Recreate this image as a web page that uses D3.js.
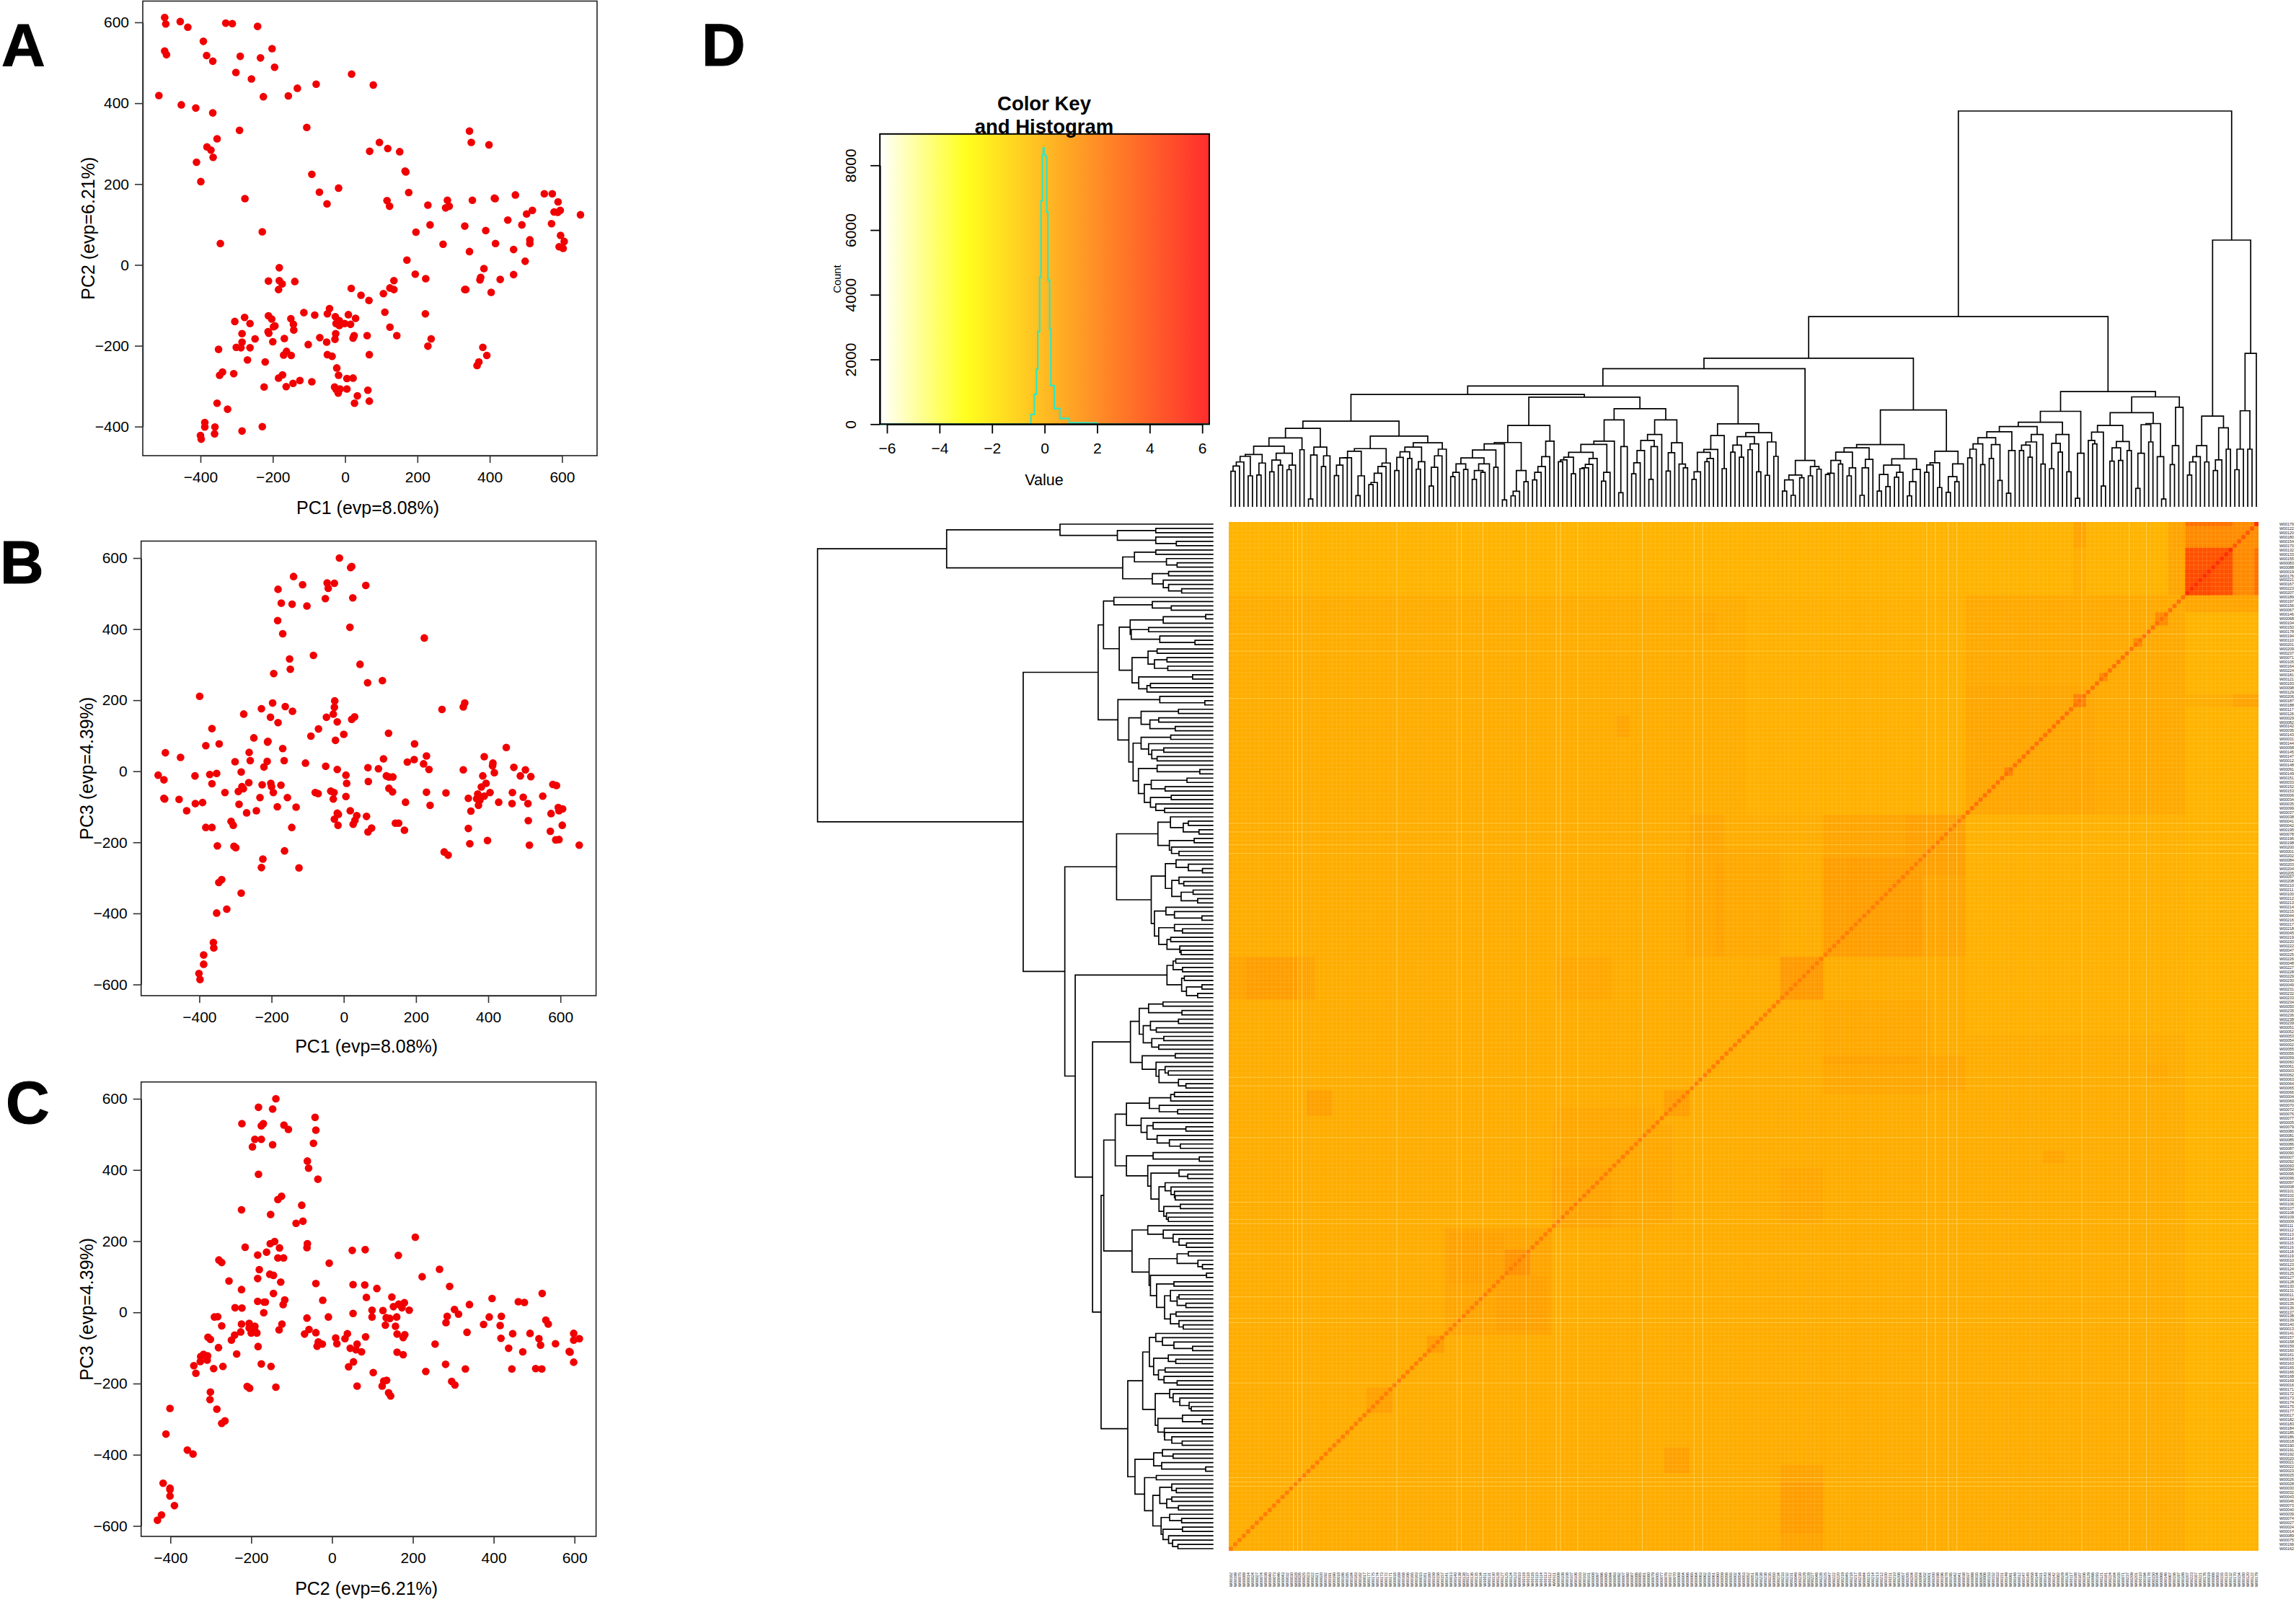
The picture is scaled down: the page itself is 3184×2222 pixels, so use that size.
<!DOCTYPE html>
<html>
<head>
<meta charset="utf-8">
<script src="https://cdn.jsdelivr.net/npm/d3@7"></script>
<style>
  html, body { margin: 0; padding: 0; background: #fff; }
  text { font-family: "Liberation Sans", Arial, sans-serif; fill: #000; }
</style>
</head>
<body>
<div class="chart"></div>
<script>
var svgWidth = 3184;
var svgHeight = 2222;

// PCA scatter values, [x, y]
var pointsA = [[-499,612],[-496,596],[-456,602],[-435,588],[-330,598],[-312,597],[-242,590],[-392,553],[-202,535],[-499,529],[-494,520],[-383,518],[-290,516],[-234,512],[-366,504],[-195,489],[-302,476],[-259,460],[18,472],[78,445],[-80,447],[-132,437],[-157,418],[-226,416],[-515,419],[-453,396],[-413,388],[-366,376],[-106,340],[-292,333],[344,331],[349,303],[398,297],[95,303],[68,281],[118,288],[151,280],[-354,312],[-382,292],[-371,284],[-365,266],[-411,254],[-399,206],[166,232],[168,230],[-92,224],[-18,190],[-71,180],[-50,151],[-277,164],[176,179],[116,159],[123,145],[229,148],[283,160],[288,145],[278,141],[352,160],[413,165],[415,164],[471,173],[551,176],[573,176],[589,156],[578,131],[588,130],[595,135],[651,124],[518,135],[502,126],[450,111],[489,99],[571,102],[235,99],[331,96],[389,85],[196,81],[-229,82],[596,73],[511,62],[511,53],[606,58],[416,53],[271,51],[-345,53],[592,45],[603,41],[466,38],[344,33],[171,12],[498,9],[-182,-7],[384,-9],[194,-23],[466,-24],[375,-31],[373,-37],[223,-34],[429,-36],[135,-39],[-212,-40],[-182,-39],[-174,-47],[-139,-41],[-184,-61],[124,-57],[135,-61],[17,-58],[331,-61],[334,-61],[404,-68],[106,-71],[44,-75],[66,-88],[-43,-108],[-49,-121],[110,-117],[222,-121],[-114,-118],[-84,-124],[9,-123],[-27,-128],[29,-132],[-212,-126],[-203,-134],[-150,-133],[-278,-130],[-305,-140],[-263,-145],[-143,-147],[-142,-161],[-16,-138],[-25,-145],[-1,-145],[15,-147],[-16,-150],[-194,-151],[-198,-153],[-213,-165],[-211,-169],[124,-154],[-285,-170],[-249,-183],[-26,-170],[-28,-184],[25,-175],[22,-181],[61,-175],[143,-175],[238,-183],[229,-201],[-168,-182],[-70,-180],[-51,-191],[-200,-190],[-102,-197],[-285,-191],[-301,-204],[-288,-205],[-263,-205],[-350,-209],[-162,-214],[-170,-223],[-149,-224],[-49,-222],[-36,-226],[67,-222],[381,-204],[392,-224],[-270,-235],[-221,-240],[370,-240],[365,-249],[-23,-255],[-18,-273],[-173,-272],[-184,-280],[-308,-269],[-339,-265],[-347,-273],[22,-280],[5,-281],[-125,-286],[-92,-289],[-144,-293],[-163,-301],[-224,-302],[-29,-302],[-25,-308],[-14,-307],[-19,-317],[5,-307],[63,-310],[34,-324],[67,-337],[26,-342],[-354,-342],[-325,-357],[-388,-390],[-388,-401],[-360,-401],[-361,-418],[-229,-400],[-285,-411],[-400,-422],[-398,-431]];

var pointsB = [[-12,600],[19,573],[22,576],[-139,548],[-114,525],[-182,512],[-46,530],[-26,529],[-43,515],[61,523],[-51,486],[25,488],[-173,473],[-143,470],[-102,465],[-183,424],[17,405],[-169,387],[223,375],[-84,326],[-150,316],[45,301],[-148,287],[-194,275],[66,249],[107,255],[-399,211],[-25,198],[-197,192],[335,192],[331,181],[272,174],[-26,180],[-162,182],[-228,176],[-142,169],[-277,161],[-29,161],[-48,152],[-203,152],[30,153],[22,146],[-182,137],[-18,139],[-365,120],[-70,119],[124,107],[0,104],[-91,99],[-249,94],[-23,87],[-211,82],[-210,84],[-345,77],[-382,72],[196,77],[450,67],[-169,64],[-494,52],[-262,53],[-452,39],[389,41],[229,43],[110,35],[195,33],[176,26],[-259,30],[-165,30],[-212,28],[-301,27],[-106,23],[221,21],[413,23],[412,15],[-50,14],[-221,12],[67,10],[471,11],[503,4],[96,7],[-18,5],[236,5],[331,4],[417,-4],[-284,-2],[-352,-6],[-371,-9],[-514,-11],[-498,-24],[-412,-13],[6,-11],[118,-13],[125,-16],[136,-16],[385,-13],[489,-13],[518,-15],[8,-34],[68,-29],[-263,-32],[-365,-35],[-226,-38],[-202,-34],[-200,-43],[-174,-39],[394,-34],[381,-44],[579,-37],[589,-40],[125,-48],[135,-58],[-282,-43],[-278,-49],[-292,-57],[-329,-60],[-195,-60],[-79,-60],[-71,-63],[-36,-56],[-27,-60],[-29,-78],[229,-59],[283,-61],[371,-64],[368,-77],[377,-81],[373,-96],[389,-70],[405,-60],[467,-60],[497,-73],[551,-70],[6,-71],[-156,-74],[-232,-74],[-498,-76],[-496,-78],[-456,-79],[345,-76],[-411,-91],[-391,-88],[-290,-93],[171,-87],[429,-87],[466,-91],[510,-91],[239,-96],[-184,-100],[-132,-101],[594,-102],[606,-106],[596,-111],[-435,-111],[-242,-111],[352,-112],[-269,-117],[18,-111],[574,-119],[-18,-118],[-15,-121],[36,-125],[63,-127],[-26,-135],[31,-138],[26,-149],[-312,-141],[-306,-152],[511,-139],[143,-146],[152,-146],[-16,-152],[605,-152],[-382,-158],[-365,-158],[-144,-158],[77,-160],[67,-171],[345,-161],[168,-166],[572,-169],[587,-193],[596,-192],[398,-195],[349,-204],[-350,-210],[-304,-211],[-299,-215],[514,-208],[652,-208],[-164,-224],[278,-227],[289,-236],[-224,-247],[-228,-271],[-124,-272],[-338,-305],[-346,-313],[-284,-343],[-324,-388],[-352,-399],[-361,-482],[-360,-497],[-388,-517],[-388,-543],[-401,-569],[-398,-586]];

var pointsC = [[-139,600],[-182,576],[-147,571],[-42,548],[-223,530],[-170,530],[-175,524],[-119,526],[-108,514],[-40,512],[-191,486],[-175,486],[-46,475],[-147,471],[-197,465],[-61,425],[-58,405],[-182,388],[-35,374],[-125,326],[-134,317],[-75,301],[-224,288],[-152,275],[-72,256],[-89,250],[206,211],[-142,199],[-153,193],[-61,193],[-62,182],[-130,181],[-215,183],[50,174],[82,176],[-162,169],[-184,161],[164,160],[-134,153],[-120,153],[-7,138],[-280,147],[-273,140],[266,121],[-180,120],[223,100],[-154,107],[-145,104],[-184,95],[-255,88],[-127,85],[-40,81],[52,78],[81,77],[291,73],[-224,64],[111,67],[-145,53],[520,53],[148,43],[85,42],[396,39],[461,30],[476,28],[-117,35],[-121,22],[-23,34],[-184,31],[-168,29],[-165,29],[179,27],[165,23],[173,13],[152,16],[340,22],[-240,13],[-223,12],[99,6],[126,5],[191,6],[303,8],[-169,-1],[52,-3],[313,-5],[-291,-13],[-283,-12],[285,-11],[-62,-16],[-9,-13],[99,-13],[134,-15],[143,-17],[160,-13],[389,-13],[419,-11],[529,-22],[535,-33],[282,-29],[-273,-38],[-224,-33],[-205,-31],[-205,-44],[-191,-39],[-192,-47],[-124,-33],[-131,-49],[132,-36],[157,-39],[375,-34],[416,-37],[-57,-48],[-226,-55],[-241,-64],[-200,-58],[-186,-58],[-68,-61],[-40,-57],[38,-60],[161,-61],[180,-63],[176,-71],[334,-56],[447,-60],[490,-59],[598,-59],[-307,-70],[-301,-76],[-249,-78],[83,-69],[9,-72],[32,-74],[418,-73],[512,-74],[612,-74],[598,-78],[12,-88],[62,-89],[-34,-83],[-37,-95],[-24,-89],[255,-89],[516,-92],[553,-88],[-281,-99],[-183,-96],[45,-101],[59,-105],[437,-101],[73,-111],[161,-112],[176,-119],[472,-111],[587,-110],[589,-112],[-236,-117],[-318,-118],[-308,-122],[-325,-124],[-326,-138],[-309,-134],[53,-139],[598,-140],[-342,-150],[-175,-145],[-151,-152],[-270,-152],[-293,-158],[41,-153],[281,-146],[330,-159],[445,-159],[504,-158],[519,-159],[232,-166],[-337,-171],[102,-169],[296,-194],[304,-204],[135,-191],[128,-193],[-210,-208],[-204,-213],[-139,-210],[62,-207],[124,-207],[-301,-224],[140,-226],[145,-235],[-302,-245],[-401,-270],[-285,-272],[-265,-305],[-273,-312],[-411,-342],[-358,-387],[-344,-398],[-418,-480],[-401,-494],[-401,-498],[-401,-516],[-390,-543],[-422,-569],[-432,-584]];

var pcaTicksX = [-400, -200, 0, 200, 400, 600];
var pcaTicksYA = [-400, -200, 0, 200, 400, 600];
var pcaTicksYBC = [-600, -400, -200, 0, 200, 400, 600];

// color key
var keyTicksX = [-6, -4, -2, 0, 2, 4, 6];
var keyTicksY = [0, 2000, 4000, 6000, 8000];
var histValue = [-6.27,-0.6,-0.52,-0.39,-0.31,-0.26,-0.19,-0.136,-0.084,-0.05,-0.02,0.03,0.084,0.126,0.19,0.24,0.37,0.58,0.94,1.57,2,6.27];
var histCount = [0,0,300,925,1700,2860,4540,6900,8330,8540,8330,8280,6560,4450,2950,1190,485,176,44,40,0,0];

// Merge height between neighbouring samples, top row to bottom row. Root is 1484.
// A dendrogram with fixed leaf order is fully described by these.
var mergeHeights = [575,216,360,216,139,1000,216,296,176,136,340,168,229,188,168,119,1484,
  373,229,158,412,29,188,312,243,308,201,69,353,211,245,174,221,171,305,78,280,236,249,432,201,32,
  358,131,271,205,238,143,317,160,271,243,186,231,211,301,211,51,281,99,233,181,259,158,236,216,183,713,
  161,94,113,54,208,72,165,157,129,363,140,94,41,180,129,111,156,76,121,59,233,178,146,43,221,146,116,205,160,174,126,121,557,
  141,151,116,174,109,119,43,101,59,518,
  189,243,118,278,131,236,214,263,186,231,205,311,143,267,215,181,169,204,131,103,453,
  146,160,240,203,134,326,271,226,103,249,211,165,124,368,226,53,326,246,129,96,234,181,159,146,143,204,124,186,176,169,411,
  246,188,151,129,101,305,94,136,58,41,241,26,236,148,213,161,129,136,103,183,140,161,129,113,421,
  216,191,148,78,240,169,141,224,181,206,185,136,265,164,151,126,91,83,218,116,42,208,184,183,156,117,321,
  191,151,224,194,29,294,214,258,156,139,201,156,175,131,227,164,119,196,116,189,168,153,133];

// sample names, same order as the rows
var sampleIds = ("179 122 120 180 154 170 132 133 155 083 088 019 176 221 167 223 207 189 197 156 067 146 068 104 150 178 194 110 201 209 237 071 105 164 224 181 121 193 098 129 206 187 188 117 126 029 082 " +
  "142 036 143 031 144 058 145 147 012 148 091 149 151 033 152 153 006 034 035 099 037 038 041 042 195 078 196 198 200 001 202 084 203 204 205 057 208 210 211 100 212 213 214 215 " +
  "044 216 217 218 045 219 220 222 047 225 226 048 227 228 229 230 049 231 232 233 234 050 235 236 238 239 051 052 053 054 002 055 056 059 060 061 003 062 063 064 065 066 004 069 070 072 076 077 005 079 080 081 " +
  "085 086 087 090 007 092 093 094 095 096 097 008 101 102 103 106 107 108 109 009 111 112 113 114 115 116 118 119 010 123 124 125 127 128 130 131 011 134 135 136 137 138 139 140 " +
  "013 141 157 158 159 160 161 015 163 165 166 168 169 016 171 172 173 174 175 177 017 182 183 184 185 186 018 190 191 192 020 021 022 023 025 026 028 030 032 043 046 " +
  "073 040 039 074 027 024 014 089 075 199 162").split(" ").map(d => "W00" + d);

// heatmap regions: [rowFrom, rowTo, colFrom, colTo, value], mirrored on draw
var heatBase = 0.5;
var heatBlocks = [
  [0,17,17,239,0.2],[17,68,17,68,0.62],[38,68,40,68,0.8],[68,119,17,68,0.34],
  [68,101,68,101,0.85],[68,78,68,82,1.05],[78,101,78,101,1.15],[101,111,101,111,1.3],
  [76,101,111,133,0.68],[101,111,151,163,0.72],[124,132,68,79,0.8],
  [124,132,79,101,0.95],[132,138,132,138,1.1],[132,138,215,221,1.0],
  [101,111,219,239,0.9],[101,111,223,235,1.15],[150,162,101,111,0.7],
  [140,163,136,164,0.72],[150,163,150,164,0.9],[164,188,164,189,0.85],[175,188,165,177,1.0],
  [169,174,170,175,1.6],[189,193,189,193,1.2],[201,207,201,207,1.0],[76,101,126,133,0.78],
  [45,50,146,149,0.85],[21,26,126,130,0.66],[0,17,17,21,0.8],[0,17,40,43,0.5],
  [17,20,0,6,0.9],[40,43,0,6,0.9],[0,6,0,6,1.9],[6,17,0,6,1.8],[0,6,6,17,2.0],
  [6,17,6,17,4.4],[11,17,11,17,4.7],[0,1,6,17,3.0],
  [21,24,21,24,1.9],[27,29,27,29,2.0],[35,37,35,37,1.9],[40,43,40,43,2.4],[57,59,57,59,2.2]
];
// diagonal value by stretch of samples: [from, to, value]
var heatDiagonal = [[0,1,5.6],[1,6,4.0],[6,17,5.8],[17,68,3.0],[68,239,2.5]];
// samples whose row and column come out as paler lines
var paleSamples = [224,223,222,186,185,170,158,143,131,129,75,72,26,30,41,70,77,162,163,180,200];

// heatmap colours
var colorScale = d3.scaleLinear()
  .domain([-6, -3, 6])
  .range(["#ffffff", "#ffff00", "#ff2a00"]);

// the key strip prints a bit paler than the cells
var keyColor = d3.scaleLinear()
  .domain([-6, -3, 6])
  .range(["#ffffff", "#ffff1e", "#ff2d2d"]);

var svg = d3.select(".chart")
  .append("svg")
  .attr("width", svgWidth)
  .attr("height", svgHeight)
  .style("display", "block");

svg.append("rect").attr("width", svgWidth).attr("height", svgHeight).attr("fill", "#fff");

// Scatter panels
function drawPca(opt) {
  var g = svg.append("g");
  var x = d3.scaleLinear().domain(opt.xDomain).range(opt.xRange);
  var y = d3.scaleLinear().domain(opt.yDomain).range(opt.yRange);

  g.append("rect")
    .attr("x", opt.frame[0]).attr("y", opt.frame[1])
    .attr("width", opt.frame[2] - opt.frame[0]).attr("height", opt.frame[3] - opt.frame[1])
    .attr("fill", "none").attr("stroke", "#222").attr("stroke-width", 1.6);

  var bottomAxis = d3.axisBottom(x).tickValues(opt.xTicks).tickSize(10).tickPadding(12).tickSizeOuter(0);
  var leftAxis = d3.axisLeft(y).tickValues(opt.yTicks).tickSize(11).tickPadding(8).tickSizeOuter(0);

  var xg = g.append("g").attr("transform", `translate(0, ${opt.frame[3]})`).call(bottomAxis);
  var yg = g.append("g").attr("transform", `translate(${opt.frame[0]}, 0)`).call(leftAxis);
  [xg, yg].forEach(function(a) {
    a.selectAll("text").style("font-size", "21px").attr("fill", "#000")
      .style("font-family", '"Liberation Sans"');
    a.selectAll("line,path").attr("stroke", "#333").attr("stroke-width", 1.6);
  });

  g.selectAll("circle")
    .data(opt.points)
    .enter()
    .append("circle")
    .attr("cx", d => x(d[0]))
    .attr("cy", d => y(d[1]))
    .attr("r", 5.3)
    .attr("fill", "#f00000");

  g.append("text")
    .attr("x", (opt.frame[0] + opt.frame[2]) / 2 - 3)
    .attr("y", opt.xTitleY)
    .attr("text-anchor", "middle")
    .style("font-size", "25px")
    .text(opt.xTitle);

  g.append("text")
    .attr("transform", `translate(${opt.yTitleX}, ${(opt.frame[1] + opt.frame[3]) / 2}) rotate(-90)`)
    .attr("text-anchor", "middle")
    .style("font-size", "25px")
    .text(opt.yTitle);
}

drawPca({
  points: pointsA, frame: [198, 1.5, 828, 632],
  xDomain: [-400, 600], xRange: [278, 779.4], yDomain: [-400, 600], yRange: [591.7, 31],
  xTicks: pcaTicksX, yTicks: pcaTicksYA, xTitleY: 713, yTitleX: 131,
  xTitle: "PC1 (evp=8.08%)", yTitle: "PC2 (evp=6.21%)"
});
drawPca({
  points: pointsB, frame: [195.7, 750.5, 826.6, 1381],
  xDomain: [-400, 600], xRange: [276.4, 777.2], yDomain: [-600, 600], yRange: [1365.5, 774],
  xTicks: pcaTicksX, yTicks: pcaTicksYBC, xTitleY: 1460, yTitleX: 129,
  xTitle: "PC1 (evp=8.08%)", yTitle: "PC3 (evp=4.39%)"
});
drawPca({
  points: pointsC, frame: [195.7, 1500.7, 826.6, 2131],
  xDomain: [-400, 600], xRange: [236.3, 796.7], yDomain: [-600, 600], yRange: [2116.5, 1524],
  xTicks: pcaTicksX, yTicks: pcaTicksYBC, xTitleY: 2212, yTitleX: 129,
  xTitle: "PC2 (evp=6.21%)", yTitle: "PC3 (evp=4.39%)"
});

// Panel letters
[["A", 2, 92], ["B", 0, 809], ["C", 8, 1558], ["D", 973, 91]].forEach(function(d) {
  svg.append("text")
    .attr("x", d[1]).attr("y", d[2])
    .style("font-size", "84px").style("font-weight", "bold")
    .attr("stroke", "#000").attr("stroke-width", 1)
    .text(d[0]);
});

// Color key and histogram
var keyLeft = 1220.2, keyRight = 1677, keyTop = 185.8, keyBottom = 588.3;
var keyX = d3.scaleLinear().domain([-6, 6]).range([1230, 1667.2]);
var keyY = d3.scaleLinear().domain([0, 8000]).range([keyBottom, 229.3]);
var keyGroup = svg.append("g");

var gradient = svg.append("defs").append("linearGradient")
  .attr("id", "keyGradient").attr("x1", "0").attr("x2", "1").attr("y1", "0").attr("y2", "0");
var keyMin = keyX.invert(keyLeft), keyMax = keyX.invert(keyRight);
[keyMin, -3, keyMax].forEach(function(v) {
  gradient.append("stop")
    .attr("offset", (v - keyMin) / (keyMax - keyMin))
    .attr("stop-color", keyColor(Math.max(-6, Math.min(6, v))));
});

keyGroup.append("rect")
  .attr("x", keyLeft).attr("y", keyTop)
  .attr("width", keyRight - keyLeft).attr("height", keyBottom - keyTop)
  .attr("fill", "url(#keyGradient)");

var histLine = d3.line()
  .x((d, i) => keyX(d))
  .y((d, i) => keyY(histCount[i]))
  .curve(d3.curveStepAfter);

keyGroup.append("path")
  .attr("d", histLine(histValue))
  .attr("fill", "none")
  .attr("stroke", "#2fe6c4")
  .attr("stroke-width", 2.2);

keyGroup.append("rect")
  .attr("x", keyLeft).attr("y", keyTop)
  .attr("width", keyRight - keyLeft).attr("height", keyBottom - keyTop)
  .attr("fill", "none").attr("stroke", "#000").attr("stroke-width", 2);

var keyBottomAxis = d3.axisBottom(keyX).tickValues(keyTicksX).tickSize(13).tickPadding(13).tickSizeOuter(0);
var keyLeftAxis = d3.axisLeft(keyY).tickValues(keyTicksY).tickSize(13).tickSizeOuter(0).tickFormat(d3.format("d"));
var kx = keyGroup.append("g").attr("transform", `translate(0, ${keyBottom})`).call(keyBottomAxis);
var ky = keyGroup.append("g").attr("transform", `translate(${keyLeft}, 0)`).call(keyLeftAxis);
kx.selectAll("text").style("font-size", "21px").style("font-family", '"Liberation Sans"').attr("fill", "#000");
ky.selectAll("text")
  .style("font-size", "21px").style("font-family", '"Liberation Sans"').attr("fill", "#000")
  .attr("text-anchor", "middle").attr("dy", 0).attr("x", 0)
  .attr("transform", "translate(-33, 0) rotate(-90)");
[kx, ky].forEach(function(a) {
  a.selectAll("line").attr("stroke", "#000").attr("stroke-width", 1.8);
  a.select("path").attr("stroke", "#000").attr("stroke-width", 1.8);
});

keyGroup.append("text").attr("x", 1448).attr("y", 153.4).attr("text-anchor", "middle")
  .style("font-size", "27.5px").style("font-weight", "bold").text("Color Key");
keyGroup.append("text").attr("x", 1448).attr("y", 185).attr("text-anchor", "middle")
  .style("font-size", "27.5px").style("font-weight", "bold").text("and Histogram");
keyGroup.append("text").attr("x", 1448).attr("y", 673).attr("text-anchor", "middle")
  .style("font-size", "21.5px").text("Value");
keyGroup.append("text")
  .attr("transform", "translate(1166, 387) rotate(-90)")
  .attr("text-anchor", "middle")
  .style("font-size", "14.7px")
  .text("Count");

// Heatmap, rows run top to bottom and columns right to left so the diagonal rises to the right
var n = mergeHeights.length + 1;
var rowScale = d3.scaleLinear().domain([-0.5, n - 0.5]).range([724, 2151]);
var colScale = d3.scaleLinear().domain([-0.5, n - 0.5]).range([3132, 1704]);
var heatGroup = svg.append("g");

function drawCells(r0, r1, c0, c1, value) {
  heatGroup.append("rect")
    .attr("x", colScale(c1 - 0.5))
    .attr("y", rowScale(r0 - 0.5))
    .attr("width", colScale(c0 - 0.5) - colScale(c1 - 0.5))
    .attr("height", rowScale(r1 - 0.5) - rowScale(r0 - 0.5))
    .attr("fill", colorScale(value));
}

drawCells(0, n, 0, n, heatBase);
heatBlocks.forEach(function(b) {
  drawCells(b[0], b[1], b[2], b[3], b[4]);
  drawCells(b[2], b[3], b[0], b[1], b[4]);
});

heatGroup.selectAll(".diag")
  .data(d3.range(n))
  .enter()
  .append("rect")
  .attr("class", "diag")
  .attr("x", d => colScale(d + 0.5))
  .attr("y", d => rowScale(d - 0.5))
  .attr("width", colScale(0) - colScale(1))
  .attr("height", rowScale(1) - rowScale(0))
  .attr("fill", function(d) {
    var stretch = heatDiagonal.find(s => d >= s[0] && d < s[1]);
    return colorScale(stretch[2]);
  });

// thin pale separators between cells
var gridGroup = heatGroup.append("g").attr("stroke", "#ffeb8c").attr("stroke-width", 1);
d3.range(1, n).forEach(function(k) {
  var pale = paleSamples.indexOf(k) >= 0;
  gridGroup.append("line")
    .attr("x1", colScale(k - 0.5)).attr("x2", colScale(k - 0.5))
    .attr("y1", rowScale(-0.5)).attr("y2", rowScale(n - 0.5))
    .attr("stroke-opacity", pale ? 0.6 : 0.16);
  gridGroup.append("line")
    .attr("y1", rowScale(k - 0.5)).attr("y2", rowScale(k - 0.5))
    .attr("x1", colScale(-0.5)).attr("x2", colScale(n - 0.5))
    .attr("stroke-opacity", pale ? 0.5 : 0.16);
});

// Row and column labels
svg.append("g").selectAll("text")
  .data(sampleIds)
  .enter()
  .append("text")
  .attr("x", 3161)
  .attr("y", (d, i) => rowScale(i))
  .attr("dy", "0.35em")
  .style("font-size", "5.4px")
  .style("fill", "#222")
  .text(d => d);

svg.append("g").selectAll("text")
  .data(sampleIds)
  .enter()
  .append("text")
  .attr("transform", (d, i) => `translate(${colScale(i)}, 2181) rotate(-90)`)
  .attr("dy", "0.35em")
  .attr("text-anchor", "end")
  .style("font-size", "5.4px")
  .style("fill", "#222")
  .text(d => d);

// Dendrogram, same tree on both sides: split at the highest gap, recursively
function buildTree(lo, hi) {
  if (lo === hi) return { leaf: lo, height: 0, pos: lo };
  var m = lo + d3.maxIndex(mergeHeights.slice(lo, hi));
  var kids = [buildTree(lo, m), buildTree(m + 1, hi)];
  return { height: mergeHeights[m], children: kids, pos: (kids[0].pos + kids[1].pos) / 2 };
}
var tree = d3.hierarchy(buildTree(0, n - 1));
var branches = tree.descendants().filter(d => d.children);

var topHeight = d3.scaleLinear().domain([0, 1484]).range([702.9, 154]);
var leftHeight = d3.scaleLinear().domain([0, 1484]).range([1682.7, 1133.7]);

svg.append("g").selectAll("path")
  .data(branches)
  .enter()
  .append("path")
  .attr("fill", "none").attr("stroke", "#000").attr("stroke-width", 1.7)
  .attr("d", function(d) {
    var a = d.children[0].data, b = d.children[1].data;
    return `M${colScale(a.pos)},${topHeight(a.height)}V${topHeight(d.data.height)}H${colScale(b.pos)}V${topHeight(b.height)}`;
  });

svg.append("g").selectAll("path")
  .data(branches)
  .enter()
  .append("path")
  .attr("fill", "none").attr("stroke", "#000").attr("stroke-width", 1.7)
  .attr("d", function(d) {
    var a = d.children[0].data, b = d.children[1].data;
    return `M${leftHeight(a.height)},${rowScale(a.pos)}H${leftHeight(d.data.height)}V${rowScale(b.pos)}H${leftHeight(b.height)}`;
  });
</script>
</body>
</html>
